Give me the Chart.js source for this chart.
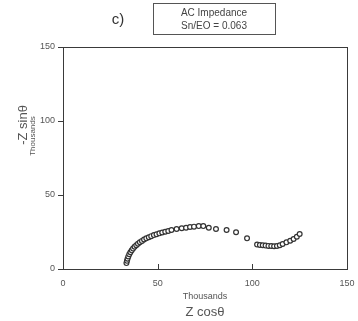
<!DOCTYPE html>
<html>
<head>
<meta charset="utf-8">
<script src="https://cdn.jsdelivr.net/npm/chart.js@4"></script>
<style>
  html, body { margin: 0; padding: 0; background: #fff; }
  #wrap { width: 358px; height: 321px; position: relative; }
</style>
</head>
<body>
<div id="wrap"><canvas id="chartNyquist"></canvas></div>
<script>
// Nyquist plot, values in thousands
const zReal = [33.5, 33.8, 34.1, 34.5, 35.0, 35.6, 36.3, 37.0, 37.8, 38.7, 39.6, 40.6, 41.7, 42.8, 44.0, 45.3, 46.6, 48.0, 49.4, 50.9, 52.4, 54.0, 55.6, 57.3, 60.0, 62.7, 65.0, 67.1, 69.2, 71.7, 74.1, 77.0, 80.8, 86.4, 91.4, 97.2, 102.5, 104.0, 105.5, 107.0, 108.5, 110.0, 111.5, 113.0, 114.5, 116.0, 118.0, 120.0, 121.8, 123.5, 125.0];
const zImag = [4.0, 5.5, 7.0, 8.5, 10.0, 11.3, 12.6, 13.8, 15.0, 16.1, 17.1, 18.1, 19.0, 19.9, 20.7, 21.5, 22.2, 22.9, 23.5, 24.1, 24.7, 25.2, 25.7, 26.4, 27.0, 27.5, 27.9, 28.4, 28.6, 29.0, 29.0, 27.9, 27.0, 26.4, 24.8, 20.7, 16.5, 16.2, 16.0, 15.8, 15.6, 15.5, 15.4, 15.5, 16.0, 16.9, 18.0, 19.1, 20.3, 21.8, 23.6];
const xTicks = [0, 50, 100, 150];
const yTicks = [0, 50, 100, 150];

const INK = '#3a3a3a';
const TXT = '#555';
const FONT = '"Liberation Sans", Arial, sans-serif';

const extras = {
  id: 'extras',
  afterDraw(chart) {
    const c = chart.ctx, a = chart.chartArea;
    const sx = chart.scales.x;
    c.save();
    // frame
    c.strokeStyle = INK; c.lineWidth = 1;
    c.strokeRect(a.left + 0.5, a.top + 0.5, a.right - a.left, a.bottom - a.top);
    // x ticks point inward
    xTicks.slice(1, -1).forEach(v => {
      const px = Math.round(sx.getPixelForValue(v)) + 0.5;
      c.beginPath(); c.moveTo(px, a.bottom); c.lineTo(px, a.bottom - 5); c.stroke();
    });
    c.fillStyle = TXT; c.textAlign = 'center'; c.textBaseline = 'middle';
    c.font = '9px ' + FONT;
    c.fillText('Thousands', 205, 297);
    c.font = '13px ' + FONT;
    c.fillText('Z cos\u03b8', 205, 312);
    // y titles
    c.save(); c.translate(23, 125); c.rotate(-Math.PI / 2);
    c.font = '13px ' + FONT; c.fillText('-Z sin\u03b8', 0, 0); c.restore();
    c.save(); c.translate(33, 136); c.rotate(-Math.PI / 2);
    c.font = '8px ' + FONT; c.fillText('Thousands', 0, 0); c.restore();
    // panel label and legend box
    c.fillStyle = '#333'; c.font = '15px ' + FONT;
    c.fillText('c)', 118, 20);
    c.strokeStyle = '#555'; c.lineWidth = 1;
    c.strokeRect(153.5, 3.5, 122, 31);
    c.fillStyle = '#444'; c.font = '10px ' + FONT;
    c.fillText('AC Impedance', 214, 13);
    c.fillText('Sn/EO = 0.063', 214, 26);
    c.restore();
  }
};

new Chart(document.getElementById('chartNyquist'), {
  type: 'scatter',
  data: {
    datasets: [{
      data: zReal.map((x, i) => ({ x: x, y: zImag[i] })),
      pointStyle: 'circle', pointRadius: 2.4,
      pointBackgroundColor: '#fff', pointBorderColor: '#333', pointBorderWidth: 1.2
    }]
  },
  options: {
    responsive: true, maintainAspectRatio: false, animation: false,
    layout: { padding: { top: 47, right: 11, left: 0, bottom: 0 } },
    plugins: { legend: { display: false }, tooltip: { enabled: false } },
    scales: {
      x: {
        type: 'linear', min: 0, max: 150,
        afterBuildTicks: s => { s.ticks = xTicks.map(v => ({ value: v })); },
        afterFit: s => { s.height = 52; s.paddingRight = 0; },
        grid: { display: true, drawOnChartArea: false, drawTicks: false },
        border: { color: INK },
        ticks: { color: TXT, font: { size: 9, family: FONT }, padding: 9 }
      },
      y: {
        type: 'linear', min: 0, max: 150,
        afterBuildTicks: s => { s.ticks = yTicks.map(v => ({ value: v })); },
        afterFit: s => { s.width = 63; },
        grid: { drawOnChartArea: false, tickLength: 5, color: INK },
        border: { color: INK },
        ticks: { color: TXT, font: { size: 9, family: FONT }, padding: 3 }
      }
    }
  },
  plugins: [extras]
});
</script>
</body>
</html>
